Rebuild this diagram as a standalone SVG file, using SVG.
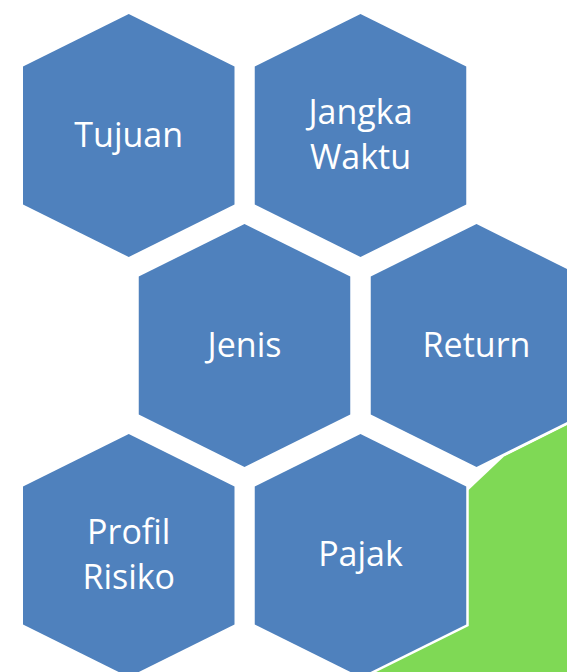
<svg xmlns="http://www.w3.org/2000/svg" xmlns:xlink="http://www.w3.org/1999/xlink" width="567" height="672" viewBox="0 0 567 672">
  <style>
    .hex { fill: #4F81BD; stroke: #FFFFFF; stroke-width: 5; paint-order: stroke; stroke-linejoin: miter; }
    .lbl { fill: #FFFFFF; font-family: "Open Sans", "Liberation Sans", sans-serif; font-size: 34px; text-anchor: middle; }
  </style>
  <defs>
    <polygon id="hexshape" points="0,-121.5 105.75,-69 105.75,69 0,121.5 -105.75,69 -105.75,-69"/>
  </defs>
  <rect width="567" height="672" fill="#FFFFFF"/>
  <polygon id="green" points="440,517 504,456.5 600,408.5 600,700 340,700" fill="#7FD955"/>
  <g id="tujuan">
    <use xlink:href="#hexshape" class="hex" transform="translate(128.75,135.5)"/>
    <text class="lbl" x="128.75" y="146.5">Tujuan</text>
  </g>
  <g id="jangka-waktu">
    <use xlink:href="#hexshape" class="hex" transform="translate(360.5,135.5)"/>
    <text class="lbl" x="360.5" y="123.5">Jangka</text>
    <text class="lbl" x="360.5" y="169">Waktu</text>
  </g>
  <g id="jenis">
    <use xlink:href="#hexshape" class="hex" transform="translate(244.5,345.5)"/>
    <text class="lbl" x="244.5" y="356.5">Jenis</text>
  </g>
  <g id="return">
    <use xlink:href="#hexshape" class="hex" transform="translate(476.5,345.5)"/>
    <text class="lbl" x="476.5" y="356.5">Return</text>
  </g>
  <g id="profil-risiko">
    <use xlink:href="#hexshape" class="hex" transform="translate(128.75,555.5)"/>
    <text class="lbl" x="128.75" y="543.5">Profil</text>
    <text class="lbl" x="128.75" y="588.5">Risiko</text>
  </g>
  <g id="pajak">
    <use xlink:href="#hexshape" class="hex" transform="translate(360.5,555.5)"/>
    <text class="lbl" x="360.5" y="565.5">Pajak</text>
  </g>
  <g id="connectors"/>
</svg>
